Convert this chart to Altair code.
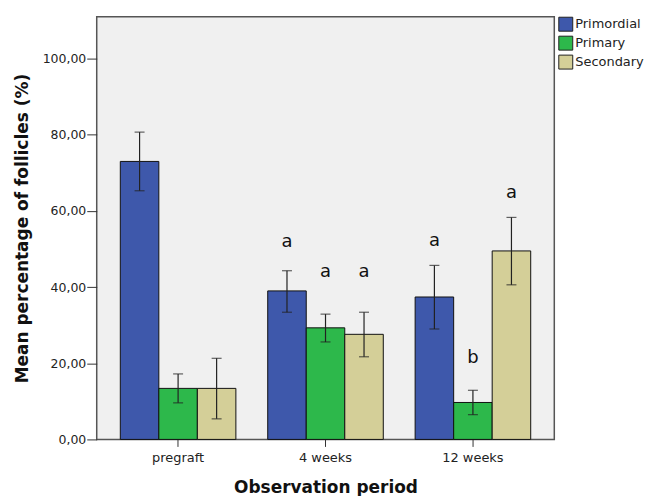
import altair as alt
import pandas as pd

periods = ["pregraft", "4 weeks", "12 weeks"]
series = ["Primordial", "Primary", "Secondary"]
colors = ["#3E58AB", "#2DB84B", "#D4CF98"]

means = {
    "Primordial": [73.0, 39.0, 37.4],
    "Primary": [13.4, 29.3, 9.7],
    "Secondary": [13.4, 27.6, 49.5],
}
err_lo = {
    "Primordial": [65.3, 33.4, 29.0],
    "Primary": [9.6, 25.6, 6.5],
    "Secondary": [5.4, 21.7, 40.6],
}
err_hi = {
    "Primordial": [80.7, 44.3, 45.7],
    "Primary": [17.2, 32.9, 12.9],
    "Secondary": [21.3, 33.4, 58.3],
}
letters = {
    "Primordial": ["", "a", "a"],
    "Primary": ["", "a", "b"],
    "Secondary": ["", "a", "a"],
}
letter_y = {
    "Primordial": [0.0, 50.5, 50.8],
    "Primary": [0.0, 42.6, 20.1],
    "Secondary": [0.0, 42.6, 63.3],
}

rows = []
for s in series:
    for i, p in enumerate(periods):
        rows.append({
            "period": p, "series": s, "mean": means[s][i],
            "lo": err_lo[s][i], "hi": err_hi[s][i],
            "letter": letters[s][i], "ly": letter_y[s][i],
        })
df = pd.DataFrame(rows)

FONT = "DejaVu Sans"

x = alt.X("period:N", sort=periods,
          scale=alt.Scale(paddingInner=0.216, paddingOuter=0.16),
          axis=alt.Axis(title="Observation period", labelAngle=0, domain=False,
                        tickSize=7, tickColor="#333", labelPadding=5,
                        labelFont=FONT, labelFontSize=13, labelColor="#222",
                        titleFont=FONT, titleFontSize=17, titleFontWeight="bold",
                        titleColor="#111", titlePadding=15))
xo = alt.XOffset("series:N", sort=series,
                 scale=alt.Scale(paddingInner=0, paddingOuter=0))
yscale = alt.Scale(domain=[0, 111], nice=False)

base = alt.Chart(df)

bars = base.mark_bar(stroke="#111", strokeWidth=1).encode(
    x=x, xOffset=xo,
    y=alt.Y("mean:Q", scale=yscale,
            axis=alt.Axis(title="Mean percentage of follicles (%)", values=[0, 20, 40, 60, 80, 100],
                          labelExpr="replace(format(datum.value, '.2f'), '.', ',')",
                          grid=False, domain=False, tickSize=10, tickColor="#333",
                          labelPadding=1, labelFont=FONT, labelFontSize=12.5, labelColor="#222",
                          titleFont=FONT, titleFontSize=17, titleFontWeight="bold",
                          titleColor="#111", titlePadding=11)),
    color=alt.Color("series:N", sort=series,
                    scale=alt.Scale(domain=series, range=colors),
                    legend=alt.Legend(title=None, orient="none", legendX=463, legendY=0,
                                      symbolType="square", symbolSize=196,
                                      symbolStrokeColor="#222", symbolStrokeWidth=1,
                                      symbolOpacity=1, rowPadding=0, labelOffset=2,
                                      labelFont=FONT, labelFontSize=13, labelColor="#222",
                                      padding=0)),
)

rules = base.mark_rule(color="#222", strokeWidth=1.2).encode(
    x=x, xOffset=xo, y=alt.Y("lo:Q", scale=yscale), y2="hi:Q")

caps_lo = base.mark_tick(color="#222", thickness=1.2, size=10).encode(
    x=x, xOffset=xo, y=alt.Y("lo:Q", scale=yscale))
caps_hi = base.mark_tick(color="#222", thickness=1.2, size=10).encode(
    x=x, xOffset=xo, y=alt.Y("hi:Q", scale=yscale))

text = base.transform_filter("datum.letter != ''").mark_text(
    font=FONT, fontSize=18, color="#111", baseline="alphabetic").encode(
    x=x, xOffset=xo, y=alt.Y("ly:Q", scale=yscale), text="letter:N")

chart = alt.layer(bars, rules, caps_lo, caps_hi, text).properties(
    width=459, height=424,
    background="white",
    padding={"left": 5, "top": 8, "right": 5, "bottom": 0},
).configure_view(fill="#F0F0F0", stroke="#555", strokeWidth=1.5)

chart.save("out.html", embed_options={"renderer": "svg", "actions": False})
